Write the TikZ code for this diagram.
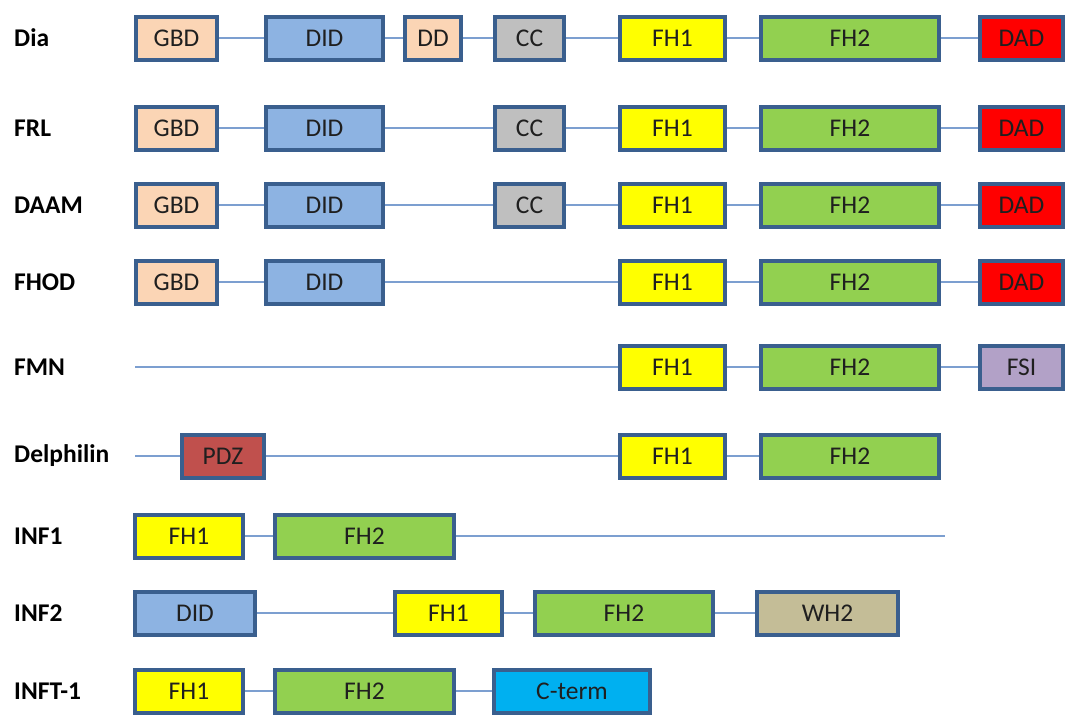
\documentclass[tikz,border=0pt]{standalone}
\usepackage{fontspec}
\setmainfont{Carlito}
\usepackage{tikz}
\usetikzlibrary{positioning}

\definecolor{domborder}{HTML}{3A5F8E}
\definecolor{linkblue}{HTML}{7C9FD0}
\definecolor{gbdcol}{HTML}{FBD5B5}
\definecolor{didcol}{HTML}{8DB3E2}
\definecolor{cccol}{HTML}{BFBFBF}
\definecolor{fhonecol}{HTML}{FFFF00}
\definecolor{fhtwocol}{HTML}{92D050}
\definecolor{dadcol}{HTML}{FF0000}
\definecolor{fsicol}{HTML}{B2A1C7}
\definecolor{pdzcol}{HTML}{C0504D}
\definecolor{whcol}{HTML}{C4BD97}
\definecolor{ctermcol}{HTML}{00B0F0}

\newcommand{\domfont}{\fontsize{25.5}{30}\selectfont}

\tikzset{dom/.style = {draw=domborder, line width=4pt, minimum height=43pt, inner sep=0pt, font=\domfont, text=black!88},
         link/.style = {draw=linkblue, line width=2.5pt},
         lbl/.style = {anchor=west, inner sep=0pt, font=\domfont\bfseries}}

\begin{document}
\begin{tikzpicture}[x=1pt, y=-1pt]
    \useasboundingbox (0,0) rectangle (1065,715);

    % Dia
    \node [lbl] (l-dia) at (14,38) {Dia};
    \node [dom, fill=gbdcol, minimum width=81] (dia-gbd) at (176.5,38) {GBD};
    \node [dom, fill=didcol, minimum width=117] (dia-did) at (324.5,38) {DID};
    \node [dom, fill=gbdcol, minimum width=56] (dia-dd) at (433,38) {DD};
    \node [dom, fill=cccol, minimum width=69] (dia-cc) at (529.5,38) {CC};
    \node [dom, fill=fhonecol, minimum width=105] (dia-fh1) at (672.5,38) {FH1};
    \node [dom, fill=fhtwocol, minimum width=178] (dia-fh2) at (850,38) {FH2};
    \node [dom, fill=dadcol, minimum width=83] (dia-dad) at (1021.5,38) {DAD};
    \draw [link] (dia-gbd) -- (dia-did) -- (dia-dd) -- (dia-cc) -- (dia-fh1) -- (dia-fh2) -- (dia-dad);

    % FRL
    \node [lbl] (l-frl) at (14,128) {FRL};
    \node [dom, fill=gbdcol, minimum width=81] (frl-gbd) at (176.5,128) {GBD};
    \node [dom, fill=didcol, minimum width=117] (frl-did) at (324.5,128) {DID};
    \node [dom, fill=cccol, minimum width=69] (frl-cc) at (529.5,128) {CC};
    \node [dom, fill=fhonecol, minimum width=105] (frl-fh1) at (672.5,128) {FH1};
    \node [dom, fill=fhtwocol, minimum width=178] (frl-fh2) at (850,128) {FH2};
    \node [dom, fill=dadcol, minimum width=83] (frl-dad) at (1021.5,128) {DAD};
    \draw [link] (frl-gbd) -- (frl-did) -- (frl-cc) -- (frl-fh1) -- (frl-fh2) -- (frl-dad);

    % DAAM
    \node [lbl] (l-daam) at (14,205) {DAAM};
    \node [dom, fill=gbdcol, minimum width=81] (daam-gbd) at (176.5,205) {GBD};
    \node [dom, fill=didcol, minimum width=117] (daam-did) at (324.5,205) {DID};
    \node [dom, fill=cccol, minimum width=69] (daam-cc) at (529.5,205) {CC};
    \node [dom, fill=fhonecol, minimum width=105] (daam-fh1) at (672.5,205) {FH1};
    \node [dom, fill=fhtwocol, minimum width=178] (daam-fh2) at (850,205) {FH2};
    \node [dom, fill=dadcol, minimum width=83] (daam-dad) at (1021.5,205) {DAD};
    \draw [link] (daam-gbd) -- (daam-did) -- (daam-cc) -- (daam-fh1) -- (daam-fh2) -- (daam-dad);

    % FHOD
    \node [lbl] (l-fhod) at (14,282) {FHOD};
    \node [dom, fill=gbdcol, minimum width=81] (fhod-gbd) at (176.5,282) {GBD};
    \node [dom, fill=didcol, minimum width=117] (fhod-did) at (324.5,282) {DID};
    \node [dom, fill=fhonecol, minimum width=105] (fhod-fh1) at (672.5,282) {FH1};
    \node [dom, fill=fhtwocol, minimum width=178] (fhod-fh2) at (850,282) {FH2};
    \node [dom, fill=dadcol, minimum width=83] (fhod-dad) at (1021.5,282) {DAD};
    \draw [link] (fhod-gbd) -- (fhod-did) -- (fhod-fh1) -- (fhod-fh2) -- (fhod-dad);

    % FMN
    \node [lbl] (l-fmn) at (14,367) {FMN};
    \coordinate (fmn-start) at (135,367);
    \node [dom, fill=fhonecol, minimum width=105] (fmn-fh1) at (672.5,367) {FH1};
    \node [dom, fill=fhtwocol, minimum width=178] (fmn-fh2) at (850,367) {FH2};
    \node [dom, fill=fsicol, minimum width=83] (fmn-fsi) at (1021.5,367) {FSI};
    \draw [link] (fmn-start) -- (fmn-fh1) -- (fmn-fh2) -- (fmn-fsi);

    % Delphilin
    \node [lbl] (l-delph) at (14,456) {Delphilin};
    \coordinate (delph-start) at (135,456);
    \node [dom, fill=pdzcol, minimum width=82] (delph-pdz) at (223,456) {PDZ};
    \node [dom, fill=fhonecol, minimum width=105] (delph-fh1) at (672.5,456) {FH1};
    \node [dom, fill=fhtwocol, minimum width=178] (delph-fh2) at (850,456) {FH2};
    \draw [link] (delph-start) -- (delph-pdz) -- (delph-fh1) -- (delph-fh2);

    % INF1
    \node [lbl] (l-inf1) at (14,536) {INF1};
    \node [dom, fill=fhonecol, minimum width=108] (inf1-fh1) at (189,536) {FH1};
    \node [dom, fill=fhtwocol, minimum width=179] (inf1-fh2) at (364.5,536) {FH2};
    \coordinate (inf1-end) at (945,536);
    \draw [link] (inf1-fh1) -- (inf1-fh2) -- (inf1-end);

    % INF2
    \node [lbl] (l-inf2) at (14,613) {INF2};
    \node [dom, fill=didcol, minimum width=120] (inf2-did) at (195,613) {DID};
    \node [dom, fill=fhonecol, minimum width=107] (inf2-fh1) at (448.5,613) {FH1};
    \node [dom, fill=fhtwocol, minimum width=178] (inf2-fh2) at (624,613) {FH2};
    \node [dom, fill=whcol, minimum width=141] (inf2-wh2) at (827.5,613) {WH2};
    \draw [link] (inf2-did) -- (inf2-fh1) -- (inf2-fh2) -- (inf2-wh2);

    % INFT-1
    \node [lbl] (l-inft) at (14,691) {INFT-1};
    \node [dom, fill=fhonecol, minimum width=108] (inft-fh1) at (189,691) {FH1};
    \node [dom, fill=fhtwocol, minimum width=179] (inft-fh2) at (364.5,691) {FH2};
    \node [dom, fill=ctermcol, minimum width=156] (inft-cterm) at (572,691) {C-term};
    \draw [link] (inft-fh1) -- (inft-fh2) -- (inft-cterm);
\end{tikzpicture}
\end{document}
